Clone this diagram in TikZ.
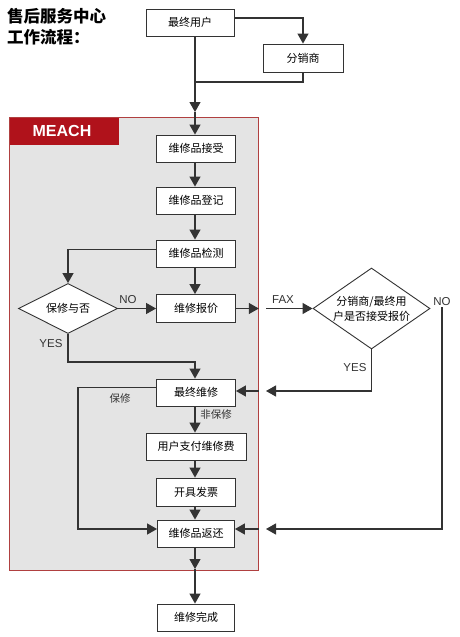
\documentclass[tikz,border=0pt]{standalone}
\usepackage{fontspec}
\setmainfont{Liberation Sans}
\newfontfamily\cjk{Noto Sans CJK SC}
\usetikzlibrary{arrows.meta,shapes.geometric,calc}
\definecolor{lnc}{HTML}{333333}
\definecolor{meachred}{HTML}{B0121B}
\definecolor{bgray}{HTML}{E4E4E4}
\definecolor{framered}{HTML}{B04040}
\begin{document}
\begin{tikzpicture}[x=1pt,y=-1pt,
  box/.style={draw=lnc, fill=white, line width=0.9pt, minimum height=27pt, minimum width=79pt, inner sep=0pt, font=\cjk\fontsize{11}{13}\selectfont},
  dia/.style={diamond, draw=lnc, fill=white, line width=0.9pt, inner sep=0pt, font=\cjk\fontsize{11}{15}\selectfont, align=center},
  conn/.style={draw=lnc, line width=1.2pt},
  arr/.style={conn, -{Triangle[length=10pt,width=11pt]}},
  lbl/.style={font=\fontsize{11.5}{13}\selectfont, text=lnc, inner sep=1pt},
  clbl/.style={font=\cjk\fontsize{10.5}{12}\selectfont, text=lnc, inner sep=1pt}
]
\useasboundingbox (0,0) rectangle (460,637);
\fill[white] (0,0) rectangle (460,637);

% frame
\node[draw=framered, fill=bgray, line width=0.8pt, minimum width=249pt, minimum height=453pt, anchor=north west, inner sep=0pt] (frame) at (9,117) {};
\node[fill=meachred, minimum width=109pt, minimum height=27pt, anchor=north west, inner sep=0pt] (meachbox) at (9.4,117.4) {};
\node[text=white, font=\bfseries\fontsize{16}{18}\selectfont, inner sep=0pt] (meach) at (62,130.5) {MEACH};

% title
\node[anchor=north west, align=left, font=\cjk\bfseries\fontsize{16.5}{21}\selectfont, inner sep=0pt] (title) at (7,8) {售后服务中心\\工作流程：};

% boxes
\node[box, minimum width=88pt] (user) at (190,22.5) {最终用户};
\node[box, minimum width=80pt, minimum height=28pt] (dist) at (303,58) {分销商};
\node[box] (accept) at (196,148.5) {维修品接受};
\node[box] (reg) at (196,200.5) {维修品登记};
\node[box] (detect) at (196,253.5) {维修品检测};
\node[box, minimum height=28pt] (quote) at (196,308.5) {维修报价};
\node[box] (final) at (196,392.5) {最终维修};
\node[box, minimum width=100pt] (pay) at (196,446.5) {用户支付维修费};
\node[box, minimum height=28pt] (invoice) at (196,492) {开具发票};
\node[box, minimum width=77pt] (ret) at (196,533.5) {维修品返还};
\node[box, minimum width=77pt] (done) at (196,617.5) {维修完成};

% diamonds
\node[dia, aspect=2, minimum width=99pt, minimum height=50pt] (warr) at (68,308.5) {保修与否};
\node[dia, aspect=1.45, minimum width=117pt, minimum height=81pt] (accq) at (371.5,308.5) {分销商/最终用\\户是否接受报价};

% labels
\node[lbl] (no1) at (128,300) {NO};
\node[lbl] (fax) at (283,300) {FAX};
\node[lbl] (no2) at (442,302) {NO};
\node[lbl] (yes1) at (51,344) {YES};
\node[lbl] (yes2) at (355,368) {YES};
\node[clbl] (bx) at (120,398) {保修};
\node[clbl] (fbx) at (216,414.5) {非保修};

% coordinates
\coordinate (c1) at (195,112);
\coordinate (j1) at (195,82);
\coordinate (faxs) at (266,308.5);
\coordinate (yesend) at (266,391);
\coordinate (noend) at (266,529);
\coordinate (c2) at (195,569);

% connectors
\draw[arr] (user.south -| c1) -- (c1);
\draw[arr] (c1) -- (accept.north -| c1);
\draw[arr] ([yshift=4.5pt]user.east) -| (dist.north);
\draw[conn] (dist.south) |- (j1);
\draw[arr] (accept.south -| c1) -- (reg.north -| c1);
\draw[arr] (reg.south -| c1) -- (detect.north -| c1);
\draw[arr] (detect.south -| c1) -- (quote.north -| c1);
\draw[arr] ([yshift=4pt]detect.west) -| (warr.north);
\draw[arr] (warr.east) -- (quote.west);
\draw[arr] (quote.east) -- (quote.east -| frame.east);
\draw[arr] (faxs) -- (accq.west);
\draw[arr] (accq.south) |- (yesend);
\draw[arr] (yesend -| frame.east) -- (final.east |- yesend);
\draw[arr] (no2.south) |- (noend);
\draw[arr] (noend -| frame.east) -- (ret.east |- noend);
\draw[arr] (warr.south) |- (195,362) -- (final.north -| c1);
\draw[arr] ([yshift=5pt]final.west) -| (78,529) -- (ret.west |- noend);
\draw[arr] (final.south -| c1) -- (pay.north -| c1);
\draw[arr] (pay.south -| c1) -- (invoice.north -| c1);
\draw[arr] (invoice.south -| c1) -- (ret.north -| c1);
\draw[arr] (ret.south -| c1) -- (c2);
\draw[arr] (c2) -- (done.north -| c1);
\end{tikzpicture}
\end{document}
